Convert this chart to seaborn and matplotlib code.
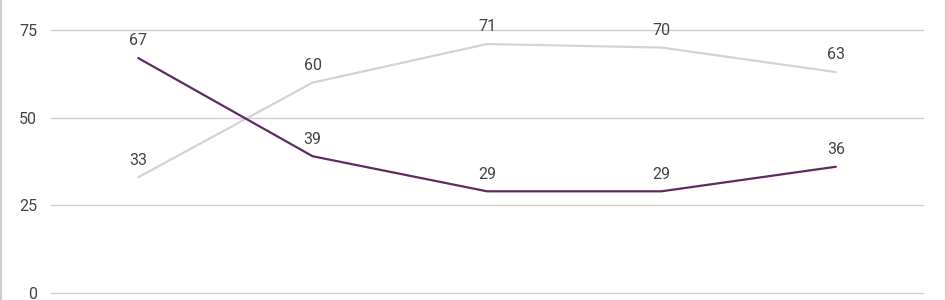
import matplotlib
matplotlib.use("Agg")
import matplotlib.pyplot as plt
import seaborn as sns
import pandas as pd
from matplotlib.lines import Line2D

categories = ["1", "2", "3", "4", "5"]
series_a = [67, 39, 29, 29, 36]
series_b = [33, 60, 71, 70, 63]
y_ticks = [0, 25, 50, 75]

sns.set_theme(style="white")
plt.rcParams["font.family"] = ["Roboto", "DejaVu Sans"]

df = pd.DataFrame({
    "x": list(range(len(categories))) * 2,
    "value": series_a + series_b,
    "series": ["A"] * len(categories) + ["B"] * len(categories),
})

fig = plt.figure(figsize=(9.46, 3.0), dpi=100)
ax = fig.add_axes([51 / 946, 7 / 300, (923 - 51) / 946, (293 - 30) / 300])

sns.lineplot(data=df, x="x", y="value", hue="series",
             palette={"A": "#5e2b61", "B": "#d3d3d3"},
             hue_order=["B", "A"], linewidth=1.6, legend=False, ax=ax,
             sort=False)

text_color = "#444444"
for vals in (series_a, series_b):
    for i, v in enumerate(vals):
        ax.annotate(str(v), (i, v), xytext=(0, 7), textcoords="offset points",
                    ha="center", va="bottom", fontsize=11.5, color=text_color,
                    annotation_clip=False)

ax.set_xlim(-0.5, len(categories) - 0.5)
ax.set_ylim(0, 75)
ax.set_yticks(y_ticks)
ax.set_yticklabels([str(t) for t in y_ticks])
ax.set_xticks([])
ax.set_xlabel("")
ax.set_ylabel("")
ax.tick_params(axis="y", length=0, pad=10, labelsize=11.5, labelcolor=text_color)
ax.grid(axis="y", color="#cccccc", linewidth=1)
ax.set_axisbelow(True)
for s in ax.spines.values():
    s.set_visible(False)
for ln in ax.lines:
    ln.set_clip_on(False)
for gl in ax.get_ygridlines():
    gl.set_clip_on(False)

fig.add_artist(Line2D([0.5 / 946, 0.5 / 946], [0, 1], transform=fig.transFigure,
                      color="#cccccc", linewidth=1.5))
fig.add_artist(Line2D([945.5 / 946, 945.5 / 946], [0, 1], transform=fig.transFigure,
                      color="#cccccc", linewidth=1.5))

fig.savefig("out.png", dpi=100)
